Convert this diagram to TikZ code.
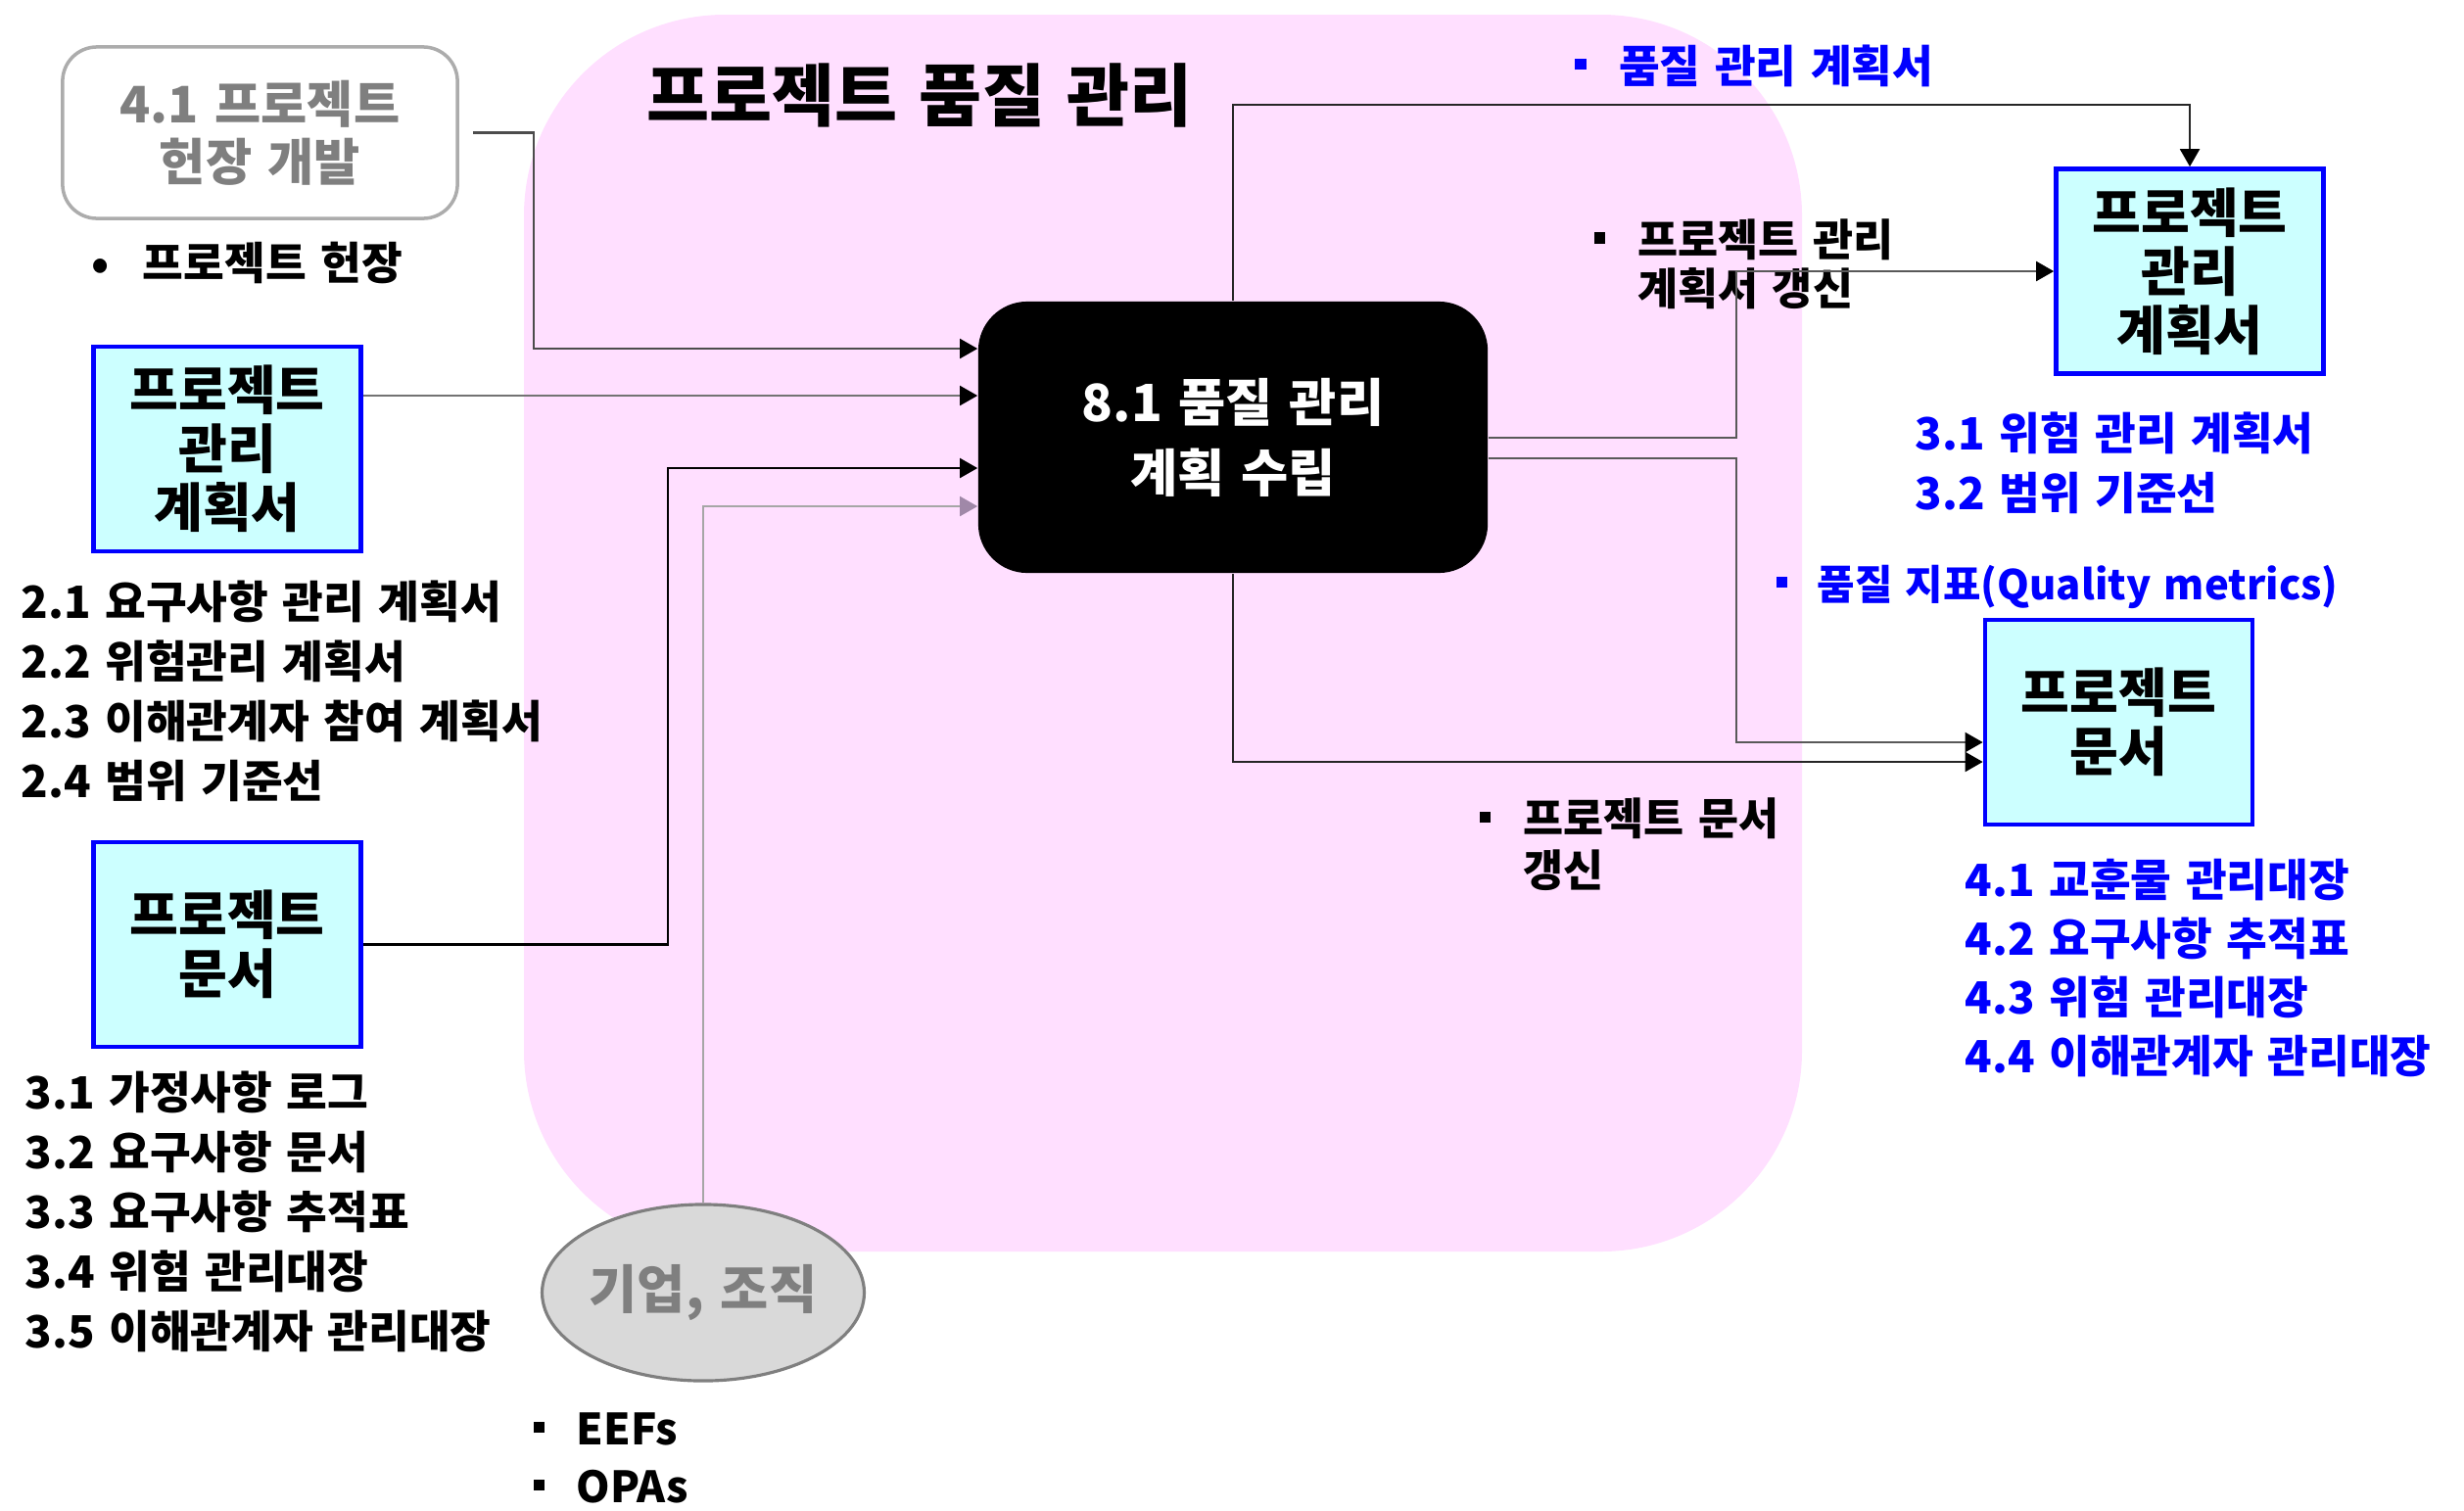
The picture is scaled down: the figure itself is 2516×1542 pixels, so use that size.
\documentclass[tikz,border=0pt]{standalone}
\usepackage{fontspec}
\setmainfont{Noto Sans CJK KR}[WordSpace=1.4]
\usetikzlibrary{arrows.meta,positioning,shapes.geometric}
\definecolor{blush}{HTML}{FFDFFF}
\definecolor{paper}{HTML}{CCFFFF}
\definecolor{frame}{HTML}{0000FF}
\definecolor{mute}{HTML}{7F7F7F}
\definecolor{fog}{HTML}{D9D9D9}
\definecolor{mauve}{HTML}{A088A8}
\newcommand\sqb{\makebox[1em][l]{\rule[0.28em]{0.26em}{0.26em}}}
\newcommand\fs[2]{\fontsize{#1}{#2}\selectfont\bfseries}

\begin{document}
\begin{tikzpicture}[x=0.01cm,y=-0.01cm,>={Triangle[length=0.18cm,width=0.2cm,color=black]},
  doc/.style={draw=frame,line width=1.3pt,fill=paper,align=center,minimum width=2.73cm,minimum height=2.09cm,font=\fs{15.4}{17.1}},
  proc/.style={fill=black,text=white,rounded corners=0.5cm,align=center,minimum width=5.2cm,minimum height=2.77cm,font=\fs{14.9}{20.5}},
  prior/.style={draw=gray!65,line width=1pt,fill=white,rounded corners=0.35cm,text=mute,align=center,minimum width=4.03cm,minimum height=1.75cm,font=\fs{14.6}{16.8}},
  org/.style={ellipse,draw=mute,line width=0.9pt,fill=fog,text=mute,minimum width=3.16cm,minimum height=1.8cm,inner sep=0pt,font=\fs{15.2}{16}},
  lst/.style={align=left,inner sep=0pt,anchor=west,font=\fs{12.9}{17.4}},
  wire/.style={line width=0.6pt}]
  \useasboundingbox (0,0) rectangle (2516,1542);
  \fill[blush,rounded corners=2.05cm] (535,15) rectangle (1840,1278);

  \node[font=\fs{19.8}{22}] (title) at (939,97) {프로젝트 품질 관리};
  \node[prior] (charter) at (265.5,135.5) {4.1 프로젝트\\헌장 개발};
  \node[lst] (charterin) at (93,268) {\textbullet\hspace{0.75em}프로젝트 헌장};
  \node[doc] (planL) at (232,458.5) {프로젝트\\관리\\계획서};
  \node[lst] (planLin) at (21,706) {2.1 요구사항 관리 계획서\\2.2 위험관리 계획서\\2.3 이해관계자 참여 계획서\\2.4 범위 기준선};
  \node[doc] (docsL) at (232,964.5) {프로젝트\\문서};
  \node[lst] (docsLin) at (25,1237.5) {3.1 가정사항 로그\\3.2 요구사항 문서\\3.3 요구사항 추적표\\3.4 위험 관리대장\\3.5 이해관계자 관리대장};
  \node[org] (ent) at (718,1320) {기업, 조직};
  \node[lst,font=\fs{12.5}{16.7}] (entin) at (544,1489) {\sqb EEFs\\\sqb OPAs};

  \node[proc] (qp) at (1259,446.5) {8.1 품질 관리\\계획 수립};

  \node[doc] (planR) at (2236,277) {프로젝트\\관리\\계획서};
  \node[doc] (docsR) at (2163.5,737.5) {프로젝트\\문서};
  \node[lst,frame] (qmp) at (1607,67) {\sqb 품질 관리 계획서};
  \node[lst,frame] (planRin) at (1955,472.5) {3.1 위험 관리 계획서\\3.2 범위 기준선};
  \node[lst,frame,font=\fs{11.9}{14}] (qm) at (1813,599) {\sqb 품질 지표(Quality metrics)};
  \node[lst,frame,font=\fs{12.9}{17.1}] (docsRin) at (2006,988.5) {4.1 교훈물 관리대장\\4.2 요구사항 추적표\\4.3 위험 관리대장\\4.4 이해관계자 관리대장};
  \node[lst,font=\fs{12.7}{14.3}] (planup) at (1627,270) {\sqb 프로젝트 관리\\\hspace*{1em}계획서 갱신};
  \node[lst,font=\fs{12.7}{15}] (docsup) at (1510,862.5) {\sqb 프로젝트 문서\\\hspace*{1em}갱신};

  \draw[wire,->,draw=black!70] ([xshift=0.14cm]charter.east) -| (545,356) -- (qp.west |- 0,356);
  \draw[wire,->,draw=black!55] (planL.east |- 0,404) -- (qp.west |- 0,404);
  \draw[wire,->] (docsL.east) -| (682,478) -- (qp.west |- 0,478);
  \draw[wire,draw=black!35,-{Triangle[length=0.18cm,width=0.2cm,color=mauve]}] (ent.north) |- (qp.west |- 0,517);

  \draw[wire,->,draw=black!85] (qp.north) |- ([yshift=0.63cm]planR.north) -- (planR.north);
  \draw[wire,->,draw=black!65] (qp.east |- 0,447) -- (1773,447) |- (planR.west);
  \draw[wire,->,draw=black!65] (qp.east |- 0,468) -- (1773,468) |- (docsR.west |- 0,758);
  \draw[wire,->,draw=black!85] (qp.south) |- (docsR.west |- 0,778);
\end{tikzpicture}
\end{document}
